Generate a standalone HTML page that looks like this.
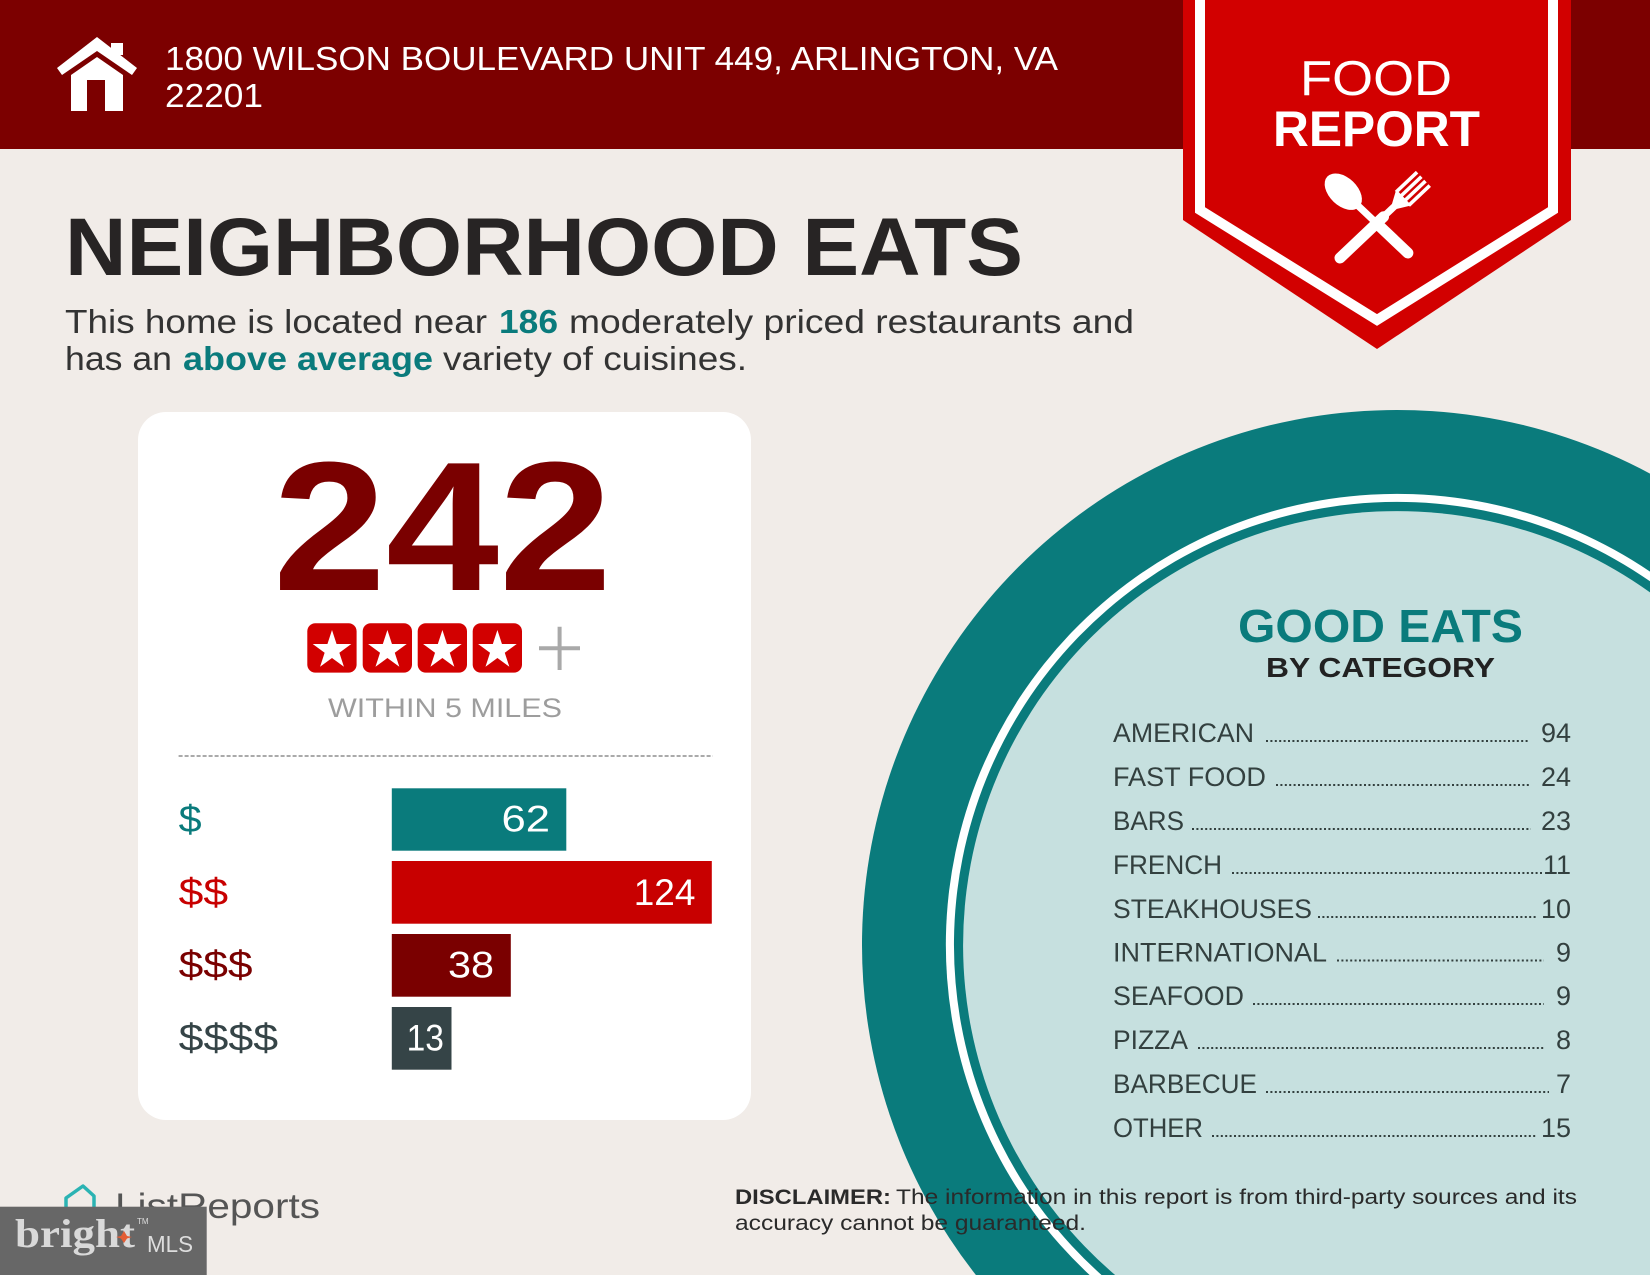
<!DOCTYPE html>
<html>
<head>
<meta charset="utf-8">
<style>
html,body{margin:0;padding:0;background:#f1ece8;width:1650px;height:1275px;overflow:hidden;}
svg{display:block;position:absolute;left:0;top:0;}
text{font-family:"Liberation Sans",sans-serif;}
</style>
</head>
<body>
<svg width="1650" height="1275" viewBox="0 0 1650 1275" xmlns="http://www.w3.org/2000/svg">
  <rect x="0" y="0" width="1650" height="1275" fill="#f1ece8"/>
  <!-- header band -->
  <rect x="0" y="0" width="1650" height="149" fill="#7c0000"/>

  <!-- house icon -->
  <polygon points="97,37 137,68 132,75 97,51 62,75 57,68" fill="#ffffff"/>
  <rect x="111" y="43" width="12" height="12" fill="#ffffff"/>
  <polygon points="97,57 123,75 123,111 71,111 71,75" fill="#ffffff"/>
  <rect x="87" y="80" width="18" height="31" fill="#7c0000"/>

  <!-- address -->
  <text x="165" y="70" font-size="33" fill="#ffffff" textLength="893" lengthAdjust="spacingAndGlyphs">1800 WILSON BOULEVARD UNIT 449, ARLINGTON, VA</text>
  <text x="165" y="107" font-size="33" fill="#ffffff" textLength="98" lengthAdjust="spacingAndGlyphs">22201</text>

  <!-- ribbon -->
  <polygon points="1183,0 1571,0 1571,220 1377,349 1183,220" fill="#d20000"/>
  <polyline points="1200,0 1200,210 1377,320 1553,210 1553,0" fill="none" stroke="#ffffff" stroke-width="10"/>
  <text x="1300" y="95" font-size="49" fill="#ffffff" textLength="152" lengthAdjust="spacingAndGlyphs">FOOD</text>
  <text x="1273" y="146" font-size="50" font-weight="bold" fill="#ffffff" textLength="207" lengthAdjust="spacingAndGlyphs">REPORT</text>

  <!-- fork -->
  <g transform="translate(1340,258) rotate(-43.5)" fill="#ffffff" stroke="none">
    <line x1="0" y1="0" x2="60" y2="0" stroke="#ffffff" stroke-width="11" stroke-linecap="round"/>
    <rect x="55" y="-3.5" width="22" height="7"/>
    <polygon points="75,-3.5 88,-11 88,11 75,3.5"/>
    <rect x="86" y="-11" width="29" height="3.6"/>
    <rect x="86" y="-4.8" width="29" height="3.6"/>
    <rect x="86" y="1.2" width="29" height="3.6"/>
    <rect x="86" y="7.4" width="29" height="3.6"/>
  </g>
  <!-- spoon -->
  <g transform="translate(1343.3,191.7) rotate(43.5)" fill="#ffffff">
    <ellipse cx="0" cy="0" rx="22" ry="14"/>
    <line x1="15" y1="0" x2="88" y2="0" stroke="#ffffff" stroke-width="7" stroke-linecap="round"/>
    <line x1="50" y1="0" x2="89" y2="0" stroke="#ffffff" stroke-width="11" stroke-linecap="round"/>
  </g>

  <!-- title -->
  <text x="65" y="275" font-size="82" font-weight="bold" fill="#272424" textLength="958" lengthAdjust="spacingAndGlyphs">NEIGHBORHOOD EATS</text>

  <!-- subtitle -->
  <text x="65" y="333" font-size="33" fill="#333333" textLength="422" lengthAdjust="spacingAndGlyphs">This home is located near</text>
  <text x="499" y="333" font-size="33" font-weight="bold" fill="#0a7b7c" textLength="59" lengthAdjust="spacingAndGlyphs">186</text>
  <text x="569" y="333" font-size="33" fill="#333333" textLength="565" lengthAdjust="spacingAndGlyphs">moderately priced restaurants and</text>
  <text x="65" y="370" font-size="33" fill="#333333" textLength="107" lengthAdjust="spacingAndGlyphs">has an</text>
  <text x="183" y="370" font-size="33" font-weight="bold" fill="#0a7b7c" textLength="250" lengthAdjust="spacingAndGlyphs">above average</text>
  <text x="443" y="370" font-size="33" fill="#333333" textLength="304" lengthAdjust="spacingAndGlyphs">variety of cuisines.</text>

  <!-- big circle (clipped to frame) -->
  <path d="M1650,473.6 A535,535 0 0 0 975.9,1275 L1650,1275 Z" fill="#0a7b7c"/>
  <path d="M1650,571.6 A451,451 0 0 0 1089.6,1275 L1650,1275 Z" fill="#ffffff"/>
  <path d="M1650,581.3 A443,443 0 0 0 1101.5,1275 L1650,1275 Z" fill="#0a7b7c"/>
  <path d="M1650,592.4 A434,434 0 0 0 1115.1,1275 L1650,1275 Z" fill="#c6e0df"/>

  <!-- card -->
  <rect x="138" y="412" width="613" height="708" rx="28" ry="28" fill="#ffffff"/>
  <text x="273" y="590" font-size="184" font-weight="bold" fill="#7a0000" textLength="339" lengthAdjust="spacingAndGlyphs">242</text>

  <!-- stars -->
  <g fill="#d20000">
    <rect x="307.3" y="623.3" width="49.3" height="49.3" rx="8"/>
    <rect x="362.7" y="623.3" width="49.3" height="49.3" rx="8"/>
    <rect x="417.7" y="623.3" width="49.3" height="49.3" rx="8"/>
    <rect x="472.7" y="623.3" width="49.3" height="49.3" rx="8"/>
  </g>
  <g fill="#ffffff">
    <polygon transform="translate(332,650.3)" points="0,-20.3 4.56,-6.27 19.31,-6.27 7.37,2.4 11.93,16.42 0,7.75 -11.93,16.42 -7.37,2.4 -19.31,-6.27 -4.56,-6.27"/>
    <polygon transform="translate(387.4,650.3)" points="0,-20.3 4.56,-6.27 19.31,-6.27 7.37,2.4 11.93,16.42 0,7.75 -11.93,16.42 -7.37,2.4 -19.31,-6.27 -4.56,-6.27"/>
    <polygon transform="translate(442.4,650.3)" points="0,-20.3 4.56,-6.27 19.31,-6.27 7.37,2.4 11.93,16.42 0,7.75 -11.93,16.42 -7.37,2.4 -19.31,-6.27 -4.56,-6.27"/>
    <polygon transform="translate(497.4,650.3)" points="0,-20.3 4.56,-6.27 19.31,-6.27 7.37,2.4 11.93,16.42 0,7.75 -11.93,16.42 -7.37,2.4 -19.31,-6.27 -4.56,-6.27"/>
  </g>
  <line x1="539" y1="648.3" x2="580" y2="648.3" stroke="#a9a9a9" stroke-width="4"/>
  <line x1="559.6" y1="626.7" x2="559.6" y2="670" stroke="#a9a9a9" stroke-width="4"/>

  <text x="328" y="717" font-size="27" fill="#9d9d9d" textLength="234" lengthAdjust="spacingAndGlyphs">WITHIN 5 MILES</text>
  <line x1="178.6" y1="756" x2="712.8" y2="756" stroke="#aaaaaa" stroke-width="2" stroke-dasharray="4 2"/>

  <!-- bars -->
  <rect x="391.8" y="788.3" width="174.5" height="62.4" fill="#0a7b7c"/>
  <rect x="391.8" y="861" width="320" height="62.7" fill="#c80000"/>
  <rect x="391.8" y="934" width="119" height="62.7" fill="#7a0000"/>
  <rect x="391.8" y="1007" width="59.7" height="62.7" fill="#354447"/>

  <text x="501.5" y="831.7" font-size="37" fill="#ffffff" textLength="48.5" lengthAdjust="spacingAndGlyphs">62</text>
  <text x="633.7" y="905" font-size="37" fill="#ffffff" textLength="61.7" lengthAdjust="spacingAndGlyphs">124</text>
  <text x="448" y="977.3" font-size="37" fill="#ffffff" textLength="46" lengthAdjust="spacingAndGlyphs">38</text>
  <text x="406.6" y="1050.7" font-size="37" fill="#ffffff" textLength="37.3" lengthAdjust="spacingAndGlyphs">13</text>

  <text x="178.6" y="832" font-size="38" fill="#0a7b7c" textLength="23" lengthAdjust="spacingAndGlyphs">$</text>
  <text x="178.6" y="905" font-size="38" fill="#c80000" textLength="49.5" lengthAdjust="spacingAndGlyphs">$$</text>
  <text x="178.6" y="977.5" font-size="38" fill="#7a0000" textLength="74" lengthAdjust="spacingAndGlyphs">$$$</text>
  <text x="178.6" y="1050.5" font-size="38" fill="#354447" textLength="99.5" lengthAdjust="spacingAndGlyphs">$$$$</text>

  <!-- good eats -->
  <text x="1238" y="642" font-size="46" font-weight="bold" fill="#0a7b7c" textLength="285" lengthAdjust="spacingAndGlyphs">GOOD EATS</text>
  <text x="1266" y="677" font-size="28" font-weight="bold" fill="#222222" textLength="229" lengthAdjust="spacingAndGlyphs">BY CATEGORY</text>

  <g font-size="27" fill="#33403f">
    <text x="1113" y="742" textLength="141" lengthAdjust="spacingAndGlyphs">AMERICAN</text>
    <text x="1113" y="786" textLength="153" lengthAdjust="spacingAndGlyphs">FAST FOOD</text>
    <text x="1113" y="830" textLength="71" lengthAdjust="spacingAndGlyphs">BARS</text>
    <text x="1113" y="874" textLength="109" lengthAdjust="spacingAndGlyphs">FRENCH</text>
    <text x="1113" y="918" textLength="199" lengthAdjust="spacingAndGlyphs">STEAKHOUSES</text>
    <text x="1113" y="961.5" textLength="214" lengthAdjust="spacingAndGlyphs">INTERNATIONAL</text>
    <text x="1113" y="1005" textLength="131" lengthAdjust="spacingAndGlyphs">SEAFOOD</text>
    <text x="1113" y="1049" textLength="75" lengthAdjust="spacingAndGlyphs">PIZZA</text>
    <text x="1113" y="1093" textLength="144" lengthAdjust="spacingAndGlyphs">BARBECUE</text>
    <text x="1113" y="1137" textLength="90" lengthAdjust="spacingAndGlyphs">OTHER</text>
  </g>
  <g font-size="27" fill="#33403f" text-anchor="end">
    <text x="1571" y="742">94</text>
    <text x="1571" y="786">24</text>
    <text x="1571" y="830">23</text>
    <text x="1571" y="874">11</text>
    <text x="1571" y="918">10</text>
    <text x="1571" y="961.5">9</text>
    <text x="1571" y="1005">9</text>
    <text x="1571" y="1049">8</text>
    <text x="1571" y="1093">7</text>
    <text x="1571" y="1137">15</text>
  </g>
  <g stroke="#33403f" stroke-width="2" stroke-dasharray="2 2.4">
    <line x1="1266" y1="741" x2="1528" y2="741"/>
    <line x1="1276" y1="785" x2="1531" y2="785"/>
    <line x1="1192" y1="829" x2="1531" y2="829"/>
    <line x1="1232" y1="873" x2="1544" y2="873"/>
    <line x1="1318" y1="917" x2="1536" y2="917"/>
    <line x1="1337" y1="960.5" x2="1544" y2="960.5"/>
    <line x1="1253" y1="1004" x2="1544" y2="1004"/>
    <line x1="1198" y1="1048" x2="1544" y2="1048"/>
    <line x1="1266" y1="1092" x2="1549" y2="1092"/>
    <line x1="1212" y1="1136" x2="1536" y2="1136"/>
  </g>

  <!-- disclaimer -->
  <text x="735" y="1204" font-size="21" font-weight="bold" fill="#2a2a2a" textLength="156" lengthAdjust="spacingAndGlyphs">DISCLAIMER:</text>
  <text x="896" y="1204" font-size="21" fill="#2a2a2a" textLength="681" lengthAdjust="spacingAndGlyphs">The information in this report is from third-party sources and its</text>
  <text x="735" y="1230" font-size="21" fill="#2a2a2a" textLength="351" lengthAdjust="spacingAndGlyphs">accuracy cannot be guaranteed.</text>

  <!-- footer logos -->
  <polyline points="66,1212 66,1198 83,1186 94,1196 94,1212" fill="none" stroke="#2bb3b3" stroke-width="3.5" stroke-linejoin="round"/>
  <text x="115" y="1218" font-size="35" fill="#555555" textLength="205" lengthAdjust="spacingAndGlyphs">ListReports</text>
  <rect x="0" y="1206.7" width="206.7" height="68.3" fill="#676767"/>
  <text x="15" y="1247" font-size="40" font-weight="bold" fill="#d9d9d9" style="font-family:'Liberation Serif',serif" textLength="120" lengthAdjust="spacingAndGlyphs">bright</text>
  <polygon points="124,1231 127,1236 132,1237 127,1238.5 124,1243 121,1238.5 116,1237 121,1236" fill="#e35d35"/>
  <text x="137" y="1224" font-size="8" fill="#dddddd">TM</text>
  <text x="147" y="1252" font-size="23" fill="#dddddd" textLength="46" lengthAdjust="spacingAndGlyphs">MLS</text>
</svg>
</body>
</html>
